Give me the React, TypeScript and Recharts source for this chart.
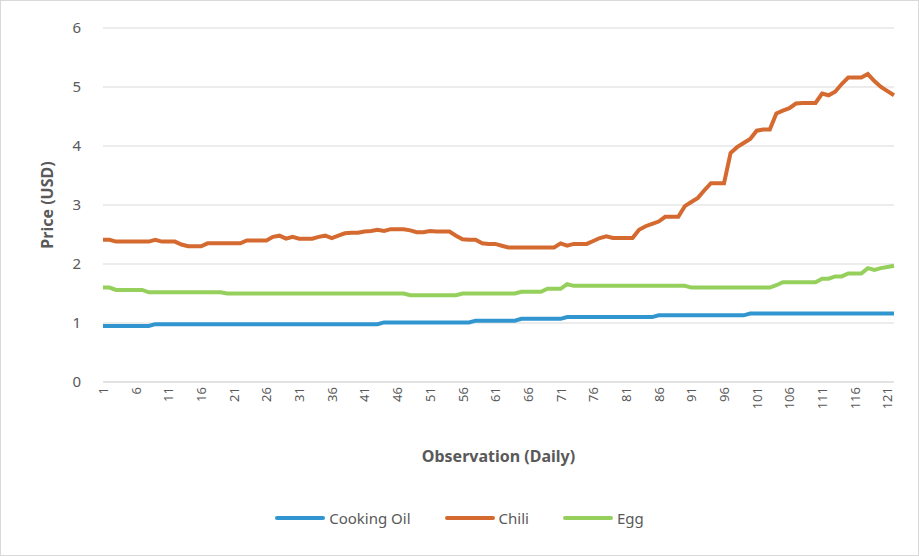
import { LineChart, Line, XAxis, YAxis, CartesianGrid, Legend } from 'recharts'

// daily prices (USD), observations 1..122
const cookingOil = [
  0.95, 0.95, 0.95, 0.95, 0.95, 0.95, 0.95, 0.95, 0.98, 0.98,
  0.98, 0.98, 0.98, 0.98, 0.98, 0.98, 0.98, 0.98, 0.98, 0.98,
  0.98, 0.98, 0.98, 0.98, 0.98, 0.98, 0.98, 0.98, 0.98, 0.98,
  0.98, 0.98, 0.98, 0.98, 0.98, 0.98, 0.98, 0.98, 0.98, 0.98,
  0.98, 0.98, 0.98, 1.01, 1.01, 1.01, 1.01, 1.01, 1.01, 1.01,
  1.01, 1.01, 1.01, 1.01, 1.01, 1.01, 1.01, 1.04, 1.04, 1.04,
  1.04, 1.04, 1.04, 1.04, 1.07, 1.07, 1.07, 1.07, 1.07, 1.07,
  1.07, 1.1, 1.1, 1.1, 1.1, 1.1, 1.1, 1.1, 1.1, 1.1,
  1.1, 1.1, 1.1, 1.1, 1.1, 1.13, 1.13, 1.13, 1.13, 1.13,
  1.13, 1.13, 1.13, 1.13, 1.13, 1.13, 1.13, 1.13, 1.13, 1.16,
  1.16, 1.16, 1.16, 1.16, 1.16, 1.16, 1.16, 1.16, 1.16, 1.16,
  1.16, 1.16, 1.16, 1.16, 1.16, 1.16, 1.16, 1.16, 1.16, 1.16,
  1.16, 1.16,
]

const chili = [
  2.41, 2.41, 2.38, 2.38, 2.38, 2.38, 2.38, 2.38, 2.41, 2.38,
  2.38, 2.38, 2.33, 2.3, 2.3, 2.3, 2.35, 2.35, 2.35, 2.35,
  2.35, 2.35, 2.4, 2.4, 2.4, 2.4, 2.46, 2.48, 2.43, 2.46,
  2.43, 2.43, 2.43, 2.46, 2.48, 2.44, 2.48, 2.52, 2.53, 2.53,
  2.55, 2.56, 2.58, 2.56, 2.59, 2.59, 2.59, 2.57, 2.54, 2.54,
  2.56, 2.55, 2.55, 2.55, 2.48, 2.42, 2.41, 2.41, 2.35, 2.34,
  2.34, 2.31, 2.28, 2.28, 2.28, 2.28, 2.28, 2.28, 2.28, 2.28,
  2.35, 2.31, 2.34, 2.34, 2.34, 2.39, 2.44, 2.47, 2.44, 2.44,
  2.44, 2.44, 2.58, 2.64, 2.68, 2.72, 2.8, 2.8, 2.8, 2.98,
  3.05, 3.12, 3.25, 3.37, 3.37, 3.37, 3.88, 3.98, 4.05, 4.12,
  4.26, 4.28, 4.28, 4.55, 4.6, 4.64, 4.72, 4.73, 4.73, 4.73,
  4.89, 4.86, 4.92, 5.05, 5.16, 5.16, 5.16, 5.22, 5.1, 5.0,
  4.93, 4.86,
]

const egg = [
  1.6, 1.6, 1.56, 1.56, 1.56, 1.56, 1.56, 1.52, 1.52, 1.52,
  1.52, 1.52, 1.52, 1.52, 1.52, 1.52, 1.52, 1.52, 1.52, 1.5,
  1.5, 1.5, 1.5, 1.5, 1.5, 1.5, 1.5, 1.5, 1.5, 1.5,
  1.5, 1.5, 1.5, 1.5, 1.5, 1.5, 1.5, 1.5, 1.5, 1.5,
  1.5, 1.5, 1.5, 1.5, 1.5, 1.5, 1.5, 1.47, 1.47, 1.47,
  1.47, 1.47, 1.47, 1.47, 1.47, 1.5, 1.5, 1.5, 1.5, 1.5,
  1.5, 1.5, 1.5, 1.5, 1.53, 1.53, 1.53, 1.53, 1.58, 1.58,
  1.58, 1.66, 1.63, 1.63, 1.63, 1.63, 1.63, 1.63, 1.63, 1.63,
  1.63, 1.63, 1.63, 1.63, 1.63, 1.63, 1.63, 1.63, 1.63, 1.63,
  1.6, 1.6, 1.6, 1.6, 1.6, 1.6, 1.6, 1.6, 1.6, 1.6,
  1.6, 1.6, 1.6, 1.64, 1.69, 1.69, 1.69, 1.69, 1.69, 1.69,
  1.75, 1.75, 1.79, 1.79, 1.84, 1.84, 1.84, 1.93, 1.9, 1.93,
  1.95, 1.97,
]

const seriesNames = ['Cooking Oil', 'Chili', 'Egg']
const yTicks = [0, 1, 2, 3, 4, 5, 6]

const observations = chili.map((_, i) => i + 1)

const data = observations.map((obs, i) => ({
  obs,
  oil: cookingOil[i],
  chili: chili[i],
  egg: egg[i],
}))

const FONT = "'Noto Sans', 'Open Sans', sans-serif"
const TEXT = '#595959'

function XTick({ x, y, payload }: any) {
  const ty = y - 3
  return (
    <text
      x={x}
      y={ty}
      transform={`rotate(-90, ${x}, ${ty})`}
      textAnchor="end"
      dominantBaseline="central"
      fontSize={13}
      fontFamily={FONT}
      fill={TEXT}
    >
      {payload.value}
    </text>
  )
}

function LegendContent({ payload }: any) {
  const items = [...(payload || [])].sort(
    (a: any, b: any) => seriesNames.indexOf(a.value) - seriesNames.indexOf(b.value)
  )
  return (
    <div style={{ display: 'flex', justifyContent: 'center', gap: 34, fontFamily: FONT, fontSize: 15, color: TEXT }}>
      {items.map((p: any) => (
        <div key={p.value} style={{ display: 'flex', alignItems: 'center' }}>
          <span style={{ display: 'inline-block', width: 50, height: 4, borderRadius: 2, background: p.color, marginRight: 4 }} />
          <span>{p.value}</span>
        </div>
      ))}
    </div>
  )
}

export default function App() {
  return (
    <div
      style={{
        position: 'absolute',
        left: 0,
        top: 0,
        width: 917,
        height: 554,
        border: '1px solid #d9d9d9',
        background: '#fff',
      }}
    >
      <LineChart
        width={917}
        height={554}
        data={data}
        margin={{ top: 27, right: 24, bottom: 73, left: 42 }}
      >
        <CartesianGrid vertical={false} stroke="#d9d9d9" />
        <XAxis
          dataKey="obs"
          interval={4}
          tickLine={false}
          axisLine={{ stroke: '#d9d9d9' }}
          tick={<XTick />}
          height={100}
          label={{
            value: 'Observation (Daily)',
            position: 'insideBottom',
            offset: 20,
            fill: TEXT,
            fontSize: 16,
            fontWeight: 700,
            fontFamily: FONT,
          }}
        />
        <YAxis
          domain={[0, 6]}
          ticks={yTicks}
          width={60}
          axisLine={false}
          tickLine={false}
          tickMargin={16}
          tick={{ fill: TEXT, fontSize: 15, fontFamily: FONT }}
          label={{
            value: 'Price (USD)',
            angle: -90,
            position: 'insideLeft',
            offset: 0,
            dx: 4,
            style: { textAnchor: 'middle' },
            fill: TEXT,
            fontSize: 16,
            fontWeight: 700,
            fontFamily: FONT,
          }}
        />
        <Legend
          verticalAlign="middle"
          align="center"
          layout="horizontal"
          wrapperStyle={{ top: 507, left: 0, width: 917 }}
          content={<LegendContent />}
        />
        <Line type="linear" dataKey="oil" name="Cooking Oil" stroke="#3196d0" strokeWidth={4} dot={false} isAnimationActive={false} />
        <Line type="linear" dataKey="chili" name="Chili" stroke="#d56a31" strokeWidth={4} dot={false} isAnimationActive={false} />
        <Line type="linear" dataKey="egg" name="Egg" stroke="#95cf5c" strokeWidth={4} dot={false} isAnimationActive={false} />
      </LineChart>
    </div>
  )
}
